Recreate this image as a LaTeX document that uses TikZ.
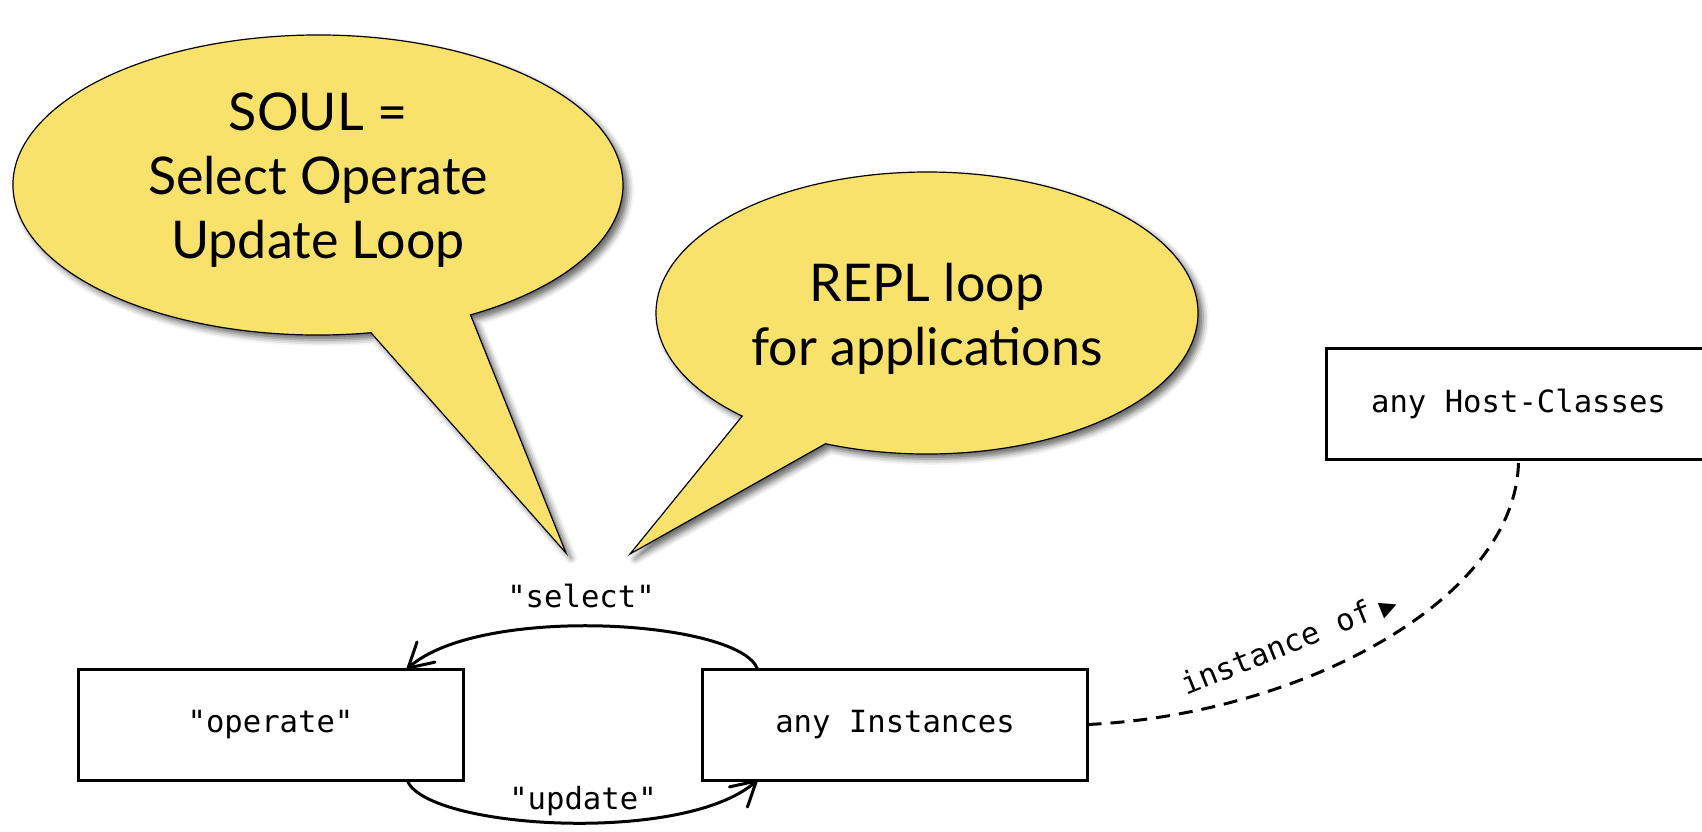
\documentclass[tikz,border=0pt]{standalone}
\usepackage{fontspec}
\setmainfont{Lato}
\setmonofont{DejaVu Sans Mono}
\newfontfamily\symbolfont{DejaVu Sans}
\usetikzlibrary{arrows.meta,shadows.blur,calc}
\definecolor{bubbleyellow}{RGB}{249,226,107}

\begin{document}
\begin{tikzpicture}[x=0.5pt,y=-0.5pt,
  box/.style={draw, line width=1.5pt, minimum width=192.5pt, minimum height=55.5pt,
    inner sep=0pt, outer sep=0pt, font=\ttfamily\fontsize{15.3}{18}\selectfont},
  bubble/.style={fill=bubbleyellow, draw=black, line width=0.6pt,
    blur shadow={shadow xshift=2.5pt, shadow yshift=-2.5pt, shadow blur radius=3pt, shadow opacity=60}},
  bubbletext/.style={font=\fontsize{26}{32}\selectfont, align=center},
  flow/.style={line width=1.5pt, -{Straight Barb[round,length=12pt,width=13.5pt,line width=1.5pt]}},
  lbl/.style={font=\ttfamily\fontsize{15.3}{18}\selectfont}
]
\useasboundingbox (0,0) rectangle (1702,831);

% speech bubbles: ellipse plus a pointed tail
\path[bubble] (318,185) ++({305*cos(80)},{150*sin(80)})
  arc[start angle=80,end angle=420,x radius=305,y radius=150] -- (566,553) -- cycle;
\path[bubble] (927,313) ++({271*cos(133)},{141*sin(133)})
  arc[start angle=133,end angle=472,x radius=271,y radius=141] -- (630,554) -- cycle;

\node[bubbletext] (soul) at (318,180) {SOUL =\\Select Operate\\Update Loop};
\node[bubbletext] (repl) at (927,319) {REPL loop\\for applications};

% boxes
\node[box] (operate) at (270.5,724.5) {"operate"};
\node[box] (inst) at (895,724.5) {any Instances};
\node[box] (host) at (1518.5,404) {any Host-Classes};

% select / update loop
\coordinate (selS) at ($(inst.north west)+(55,0)$);
\coordinate (selE) at ($(operate.north east)+(-56,0)$);
\draw[flow] (selS) .. controls ($(selS)+(-18,-49)$) and ($(selE)+(73,-65)$) .. (selE);
\coordinate (updS) at ($(operate.south east)+(-56,0)$);
\coordinate (updE) at ($(inst.south west)+(55,0)$);
\draw[flow] (updS) .. controls ($(updS)+(18,49)$) and ($(updE)+(-73,65)$) .. (updE);
\node[lbl] (sel) at (581,596) {"select"};
\node[lbl] (upd) at (583,801) {"update"};

% instance-of relation
\draw[line width=1.5pt, dash pattern=on 7pt off 4.5pt]
  (inst.east) .. controls ($(inst.east)+(213,-10)$) and ($(host.south)+(0,140)$) .. (host.south);
\node[lbl, rotate=22, anchor=base west, inner sep=0pt] (instof) at (1186,696)
  {instance of\hspace{5pt}{\symbolfont\fontsize{11}{11}\selectfont ▶}};
\end{tikzpicture}
\end{document}
